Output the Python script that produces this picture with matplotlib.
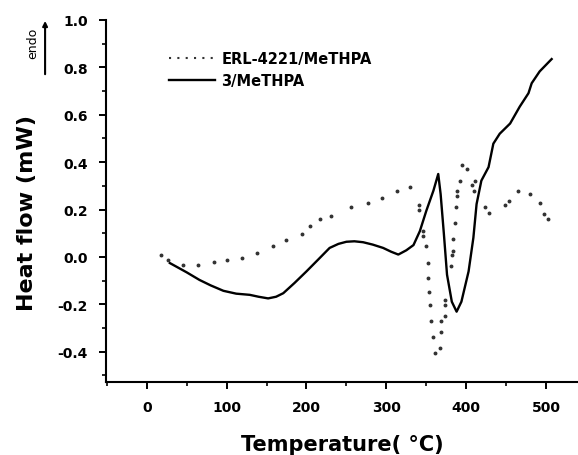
import numpy as np
import matplotlib
matplotlib.use("Agg")
import matplotlib.pyplot as plt
from matplotlib.lines import Line2D

# 3/MeTHPA (solid curve)
t_solid = [29, 50, 66, 80, 96, 112, 129, 140, 152, 162, 171, 185, 200, 215, 229, 240, 250,
           260, 271, 283, 296, 306, 315, 325, 334, 342, 350, 359, 365, 368, 372, 376, 382,
           388, 394, 403, 409, 413, 419, 428, 434, 442, 455, 467, 478, 482, 492, 507]
v_solid = [-0.026, -0.065, -0.097, -0.120, -0.143, -0.155, -0.160, -0.168, -0.175, -0.168,
           -0.153, -0.110, -0.061, -0.010, 0.038, 0.055, 0.064, 0.066, 0.062, 0.052, 0.038,
           0.022, 0.010, 0.028, 0.050, 0.109, 0.194, 0.280, 0.350, 0.265, 0.100, -0.075,
           -0.189, -0.231, -0.189, -0.061, 0.081, 0.223, 0.322, 0.379, 0.478, 0.520, 0.563,
           0.634, 0.691, 0.733, 0.783, 0.835]

# ERL-4221/MeTHPA (dotted curve), one dot per reading
t_dot = [18, 27, 46, 64, 84, 101, 119, 138, 158, 175, 194, 204, 217, 231, 256, 277, 294,
         313, 330, 341, 341, 346, 346, 350, 352, 352, 353, 355, 356, 359, 361, 367, 369,
         369, 373, 374, 374, 381, 382, 384, 384, 386, 387, 389, 389, 392, 395, 401, 407,
         410, 411, 424, 429, 449, 454, 465, 480, 492, 497, 503]
v_dot = [0.007, -0.011, -0.033, -0.033, -0.021, -0.011, -0.004, 0.017, 0.045, 0.071, 0.098,
         0.130, 0.159, 0.173, 0.209, 0.226, 0.248, 0.280, 0.294, 0.220, 0.200, 0.110, 0.090,
         0.045, -0.026, -0.089, -0.146, -0.203, -0.271, -0.338, -0.404, -0.384, -0.316,
         -0.271, -0.250, -0.203, -0.180, -0.040, 0.007, 0.027, 0.074, 0.142, 0.209, 0.258,
         0.277, 0.322, 0.390, 0.369, 0.304, 0.277, 0.322, 0.209, 0.187, 0.218, 0.237,
         0.277, 0.265, 0.227, 0.180, 0.159]

x_ticks = [0, 100, 200, 300, 400, 500]
y_ticks = [-0.4, -0.2, 0.0, 0.2, 0.4, 0.6, 0.8, 1.0]

fig = plt.figure(figsize=(5.78, 4.56), dpi=100)
ax = fig.add_axes([0.1834, 0.160, 0.8166, 0.794])

ax.plot(t_solid, v_solid, color="black", lw=1.7)
ax.plot(t_dot, v_dot, ls="none", marker="o", ms=1.8, color="#333333")

ax.set_xlim(-51, 540)
ax.set_ylim(-0.528, 1.0)
ax.set_xticks(x_ticks)
ax.set_yticks(y_ticks)
ax.set_xticks(np.arange(-50, 540, 50), minor=True)
ax.set_yticks(np.arange(-0.5, 1.0, 0.1), minor=True)
ax.set_yticklabels(["%.1f" % v for v in y_ticks])
ax.tick_params(which="major", direction="out", length=5, width=1.4, labelsize=10, pad=8)
ax.tick_params(which="minor", direction="out", length=3, width=1.2)
for lab in ax.get_xticklabels() + ax.get_yticklabels():
    lab.set_fontweight("bold")

for s in ["top", "right"]:
    ax.spines[s].set_visible(False)
for s in ["left", "bottom"]:
    ax.spines[s].set_linewidth(1.5)

ax.set_xlabel("Temperature( \u00b0C)", fontsize=15, fontweight="bold", labelpad=14)
fig.text(0.047, 0.533, "Heat flow (mW)", rotation=90, fontsize=16, fontweight="bold",
         ha="center", va="center")

# endo arrow
fig.text(0.056, 0.905, "endo", rotation=90, fontsize=9, ha="center", va="center")
ax.annotate("", xy=(0.078, 0.958), xytext=(0.078, 0.829), xycoords="figure fraction",
            textcoords="figure fraction",
            arrowprops=dict(arrowstyle="-|>", lw=1.5, color="black", mutation_scale=7))

handles = [Line2D([], [], color="#333333", ls=(0, (1, 3)), lw=1.5),
           Line2D([], [], color="black", lw=1.7)]
ax.legend(handles, ["ERL-4221/MeTHPA", "3/MeTHPA"], loc="upper left",
          bbox_to_anchor=(0.105, 0.95), frameon=False, handlelength=3.2,
          handletextpad=0.4, labelspacing=0.45,
          prop={"size": 10.5, "weight": "bold"})

fig.savefig("out.png", dpi=100)
